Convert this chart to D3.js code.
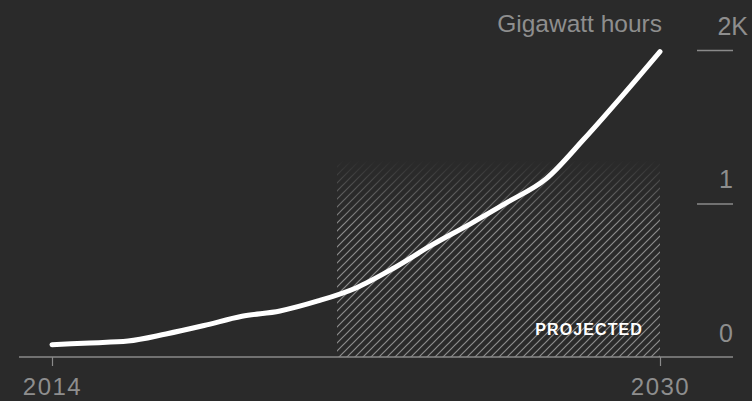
<!DOCTYPE html>
<html>
<head>
<meta charset="utf-8">
<script src="https://cdn.jsdelivr.net/npm/d3@7"></script>
<style>
  html, body { margin: 0; padding: 0; background: #2a2a2a; }
  svg { display: block; }
  text { font-family: "Liberation Sans", Arial, Helvetica, sans-serif; }
</style>
</head>
<body>
<svg id="chart" width="752" height="401"></svg>
<script>
// Battery storage capacity, gigawatt hours
const years = [2014, 2015, 2016, 2017, 2018, 2019, 2020, 2021, 2022, 2023, 2024, 2025, 2026, 2027, 2028, 2029, 2030];
const gwh   = [80, 92, 104, 150, 205, 265, 300, 365, 450, 580, 730, 866, 1010, 1160, 1420, 1700, 1990];
const projectionStart = 2021.5;
const yTicks = [0, 1000, 2000];
const xTickLabels = ["2014", "2030"];

const W = 752, H = 401;
const svg = d3.select("#chart");

const x = d3.scaleLinear().domain([2014, 2030]).range([52, 660]);
const y = d3.scaleLinear().domain([0, 2000]).range([357, 50]);

const defs = svg.append("defs");

// diagonal hatch pattern for the projected span
const pat = defs.append("pattern")
  .attr("id", "hatch")
  .attr("patternUnits", "userSpaceOnUse")
  .attr("width", 8).attr("height", 8);
pat.append("path")
  .attr("d", "M-2,2 L2,-2 M0,8 L8,0 M6,10 L10,6")
  .attr("stroke", "#8c8c8c")
  .attr("stroke-width", 1.2);

// hatch fades out toward the top
const grad = defs.append("linearGradient")
  .attr("id", "fade")
  .attr("gradientUnits", "userSpaceOnUse")
  .attr("x1", 0).attr("x2", 0).attr("y1", 160).attr("y2", 225);
grad.append("stop").attr("offset", 0).attr("stop-color", "#fff").attr("stop-opacity", 0);
grad.append("stop").attr("offset", 1).attr("stop-color", "#fff").attr("stop-opacity", 1);
defs.append("mask").attr("id", "fadeMask")
  .attr("maskUnits", "userSpaceOnUse")
  .attr("x", 0).attr("y", 0).attr("width", W).attr("height", H)
  .append("rect")
  .attr("x", 0).attr("y", 0).attr("width", W).attr("height", H)
  .attr("fill", "url(#fade)");

svg.append("rect")
  .attr("x", x(projectionStart))
  .attr("y", 140)
  .attr("width", x(2030) - x(projectionStart))
  .attr("height", y(0) - 140)
  .attr("fill", "url(#hatch)")
  .attr("mask", "url(#fadeMask)");

// "PROJECTED" tag
svg.append("text")
  .attr("x", x(2030) - 17)
  .attr("y", 335)
  .attr("text-anchor", "end")
  .attr("fill", "#ffffff")
  .attr("font-weight", "bold")
  .attr("font-size", 16)
  .attr("letter-spacing", 1.1)
  .text("PROJECTED");

// baseline
svg.append("line")
  .attr("x1", 19).attr("x2", 733)
  .attr("y1", y(0)).attr("y2", y(0))
  .attr("stroke", "#8a8a8a")
  .attr("stroke-width", 1.5);

// x axis: only first and last year
const xAxis = d3.axisBottom(x)
  .tickValues([2014, 2030])
  .tickFormat((d, i) => xTickLabels[i])
  .tickSize(9)
  .tickPadding(12);
const gx = svg.append("g")
  .attr("transform", `translate(0,${y(0)})`)
  .call(xAxis);
gx.select(".domain").remove();
gx.selectAll(".tick line").attr("stroke", "#8a8a8a").attr("stroke-width", 1.2);
gx.selectAll(".tick text")
  .attr("fill", "#8e8e8e")
  .attr("font-size", 24)
  .attr("letter-spacing", 1.5)
  .attr("font-family", "'Liberation Sans', Arial, sans-serif")
  .attr("dy", "0.71em");

// y axis on the right, labels above tick lines
const yAxis = d3.axisRight(y)
  .tickValues(yTicks)
  .tickSize(36)
  .tickFormat(d => d === 2000 ? "2K" : String(d / 1000));
const gy = svg.append("g")
  .attr("transform", "translate(697,0)")
  .call(yAxis);
gy.select(".domain").remove();
gy.selectAll(".tick line")
  .attr("stroke", "#8a8a8a")
  .attr("stroke-width", d => d === 0 ? 0 : 1.5);
gy.selectAll(".tick text")
  .attr("x", d => d === 2000 ? 51 : 36)
  .attr("dy", -16)
  .attr("text-anchor", "end")
  .attr("fill", "#8e8e8e")
  .attr("font-size", 25)
  .attr("font-family", "'Liberation Sans', Arial, sans-serif");

// unit label
svg.append("text")
  .attr("x", 662)
  .attr("y", y(2000) - 18)
  .attr("text-anchor", "end")
  .attr("fill", "#8e8e8e")
  .attr("font-size", 24.5)
  .text("Gigawatt hours");

// capacity line
const line = d3.line()
  .x((d, i) => x(years[i]))
  .y(d => y(d))
  .curve(d3.curveMonotoneX);

svg.append("path")
  .datum(gwh)
  .attr("d", line)
  .attr("fill", "none")
  .attr("stroke", "#ffffff")
  .attr("stroke-width", 5)
  .attr("stroke-linecap", "round")
  .attr("stroke-linejoin", "round");
</script>
</body>
</html>
